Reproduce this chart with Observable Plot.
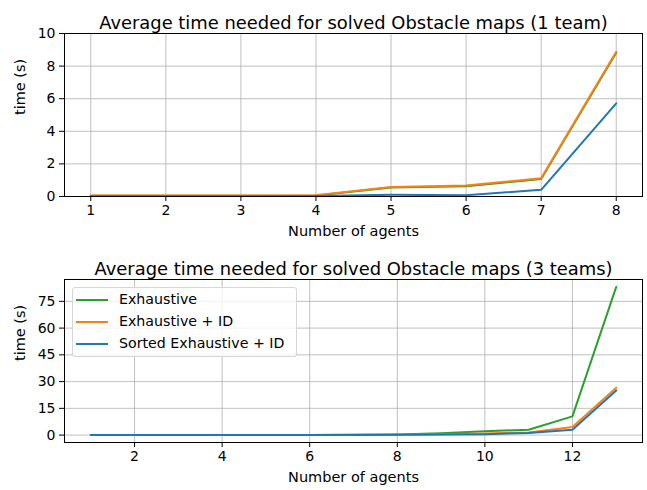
<!DOCTYPE html>
<html>
<head>
<meta charset="utf-8">
<script src="https://cdn.jsdelivr.net/npm/d3@7"></script>
<script src="https://cdn.jsdelivr.net/npm/@observablehq/plot@0.6"></script>
<style>
  html, body { margin: 0; padding: 0; background: #fff; }
  #wrap { position: relative; width: 647px; height: 490px; font-family: "DejaVu Sans", sans-serif; }
  #wrap svg { display: block; }
  .legend { position: absolute; left: 72px; top: 287px; width: 225px; height: 70px;
    border: 1px solid #d6d6d6; border-radius: 3px; background: rgba(255,255,255,0.8);
    box-sizing: border-box; font-size: 14.2px; color: #000; }
  .legend .row { position: absolute; left: 0; height: 20px; }
  .legend .sw { position: absolute; left: 3px; width: 32px; height: 2px; }
  .legend .lab { position: absolute; left: 46px; white-space: nowrap; line-height: 20px; top: -10px; }
</style>
</head>
<body>
<div id="wrap"></div>
<script>
// ---- Data ----
const agents1 = [1, 2, 3, 4, 5, 6, 7, 8];
const exhaustive1 = [0.05, 0.05, 0.05, 0.06, 0.55, 0.63, 1.07, 8.82];
const exhaustiveId1 = [0.06, 0.06, 0.06, 0.08, 0.58, 0.67, 1.12, 8.88];
const sortedId1 = [0.02, 0.02, 0.02, 0.03, 0.1, 0.08, 0.41, 5.71];

const agents3 = [1, 2, 3, 4, 5, 6, 7, 8, 9, 10, 11, 12, 13];
const exhaustive3 = [0.01, 0.01, 0.02, 0.03, 0.05, 0.1, 0.2, 0.4, 1.1, 2.2, 3.0, 10.5, 83.1];
const exhaustiveId3 = [0.01, 0.01, 0.02, 0.02, 0.04, 0.08, 0.15, 0.25, 0.5, 0.9, 1.5, 4.5, 26.6];
const sortedId3 = [0.01, 0.01, 0.01, 0.02, 0.03, 0.06, 0.1, 0.2, 0.35, 0.5, 1.2, 3.0, 25.0];

const xTicks1 = [1, 2, 3, 4, 5, 6, 7, 8];
const yTicks1 = [0, 2, 4, 6, 8, 10];
const xTicks3 = [2, 4, 6, 8, 10, 12];
const yTicks3 = [0, 15, 30, 45, 60, 75];

const seriesNames = ["Exhaustive", "Exhaustive + ID", "Sorted Exhaustive + ID"];
const seriesColors = ["#2ca02c", "#ff7f0e", "#1f77b4"];

const title1 = "Average time needed for solved Obstacle maps (1 team)";
const title3 = "Average time needed for solved Obstacle maps (3 teams)";
const xLabel = "Number of agents";
const yLabel = "time (s)";

function rows(xs, ys) { return xs.map((x, i) => ({x, y: ys[i]})); }

function chart({xs, series, xDomain, yDomain, xTicks, yTicks, title, marginTop, marginBottom}) {
  const grid = {stroke: "#b0b0b0", strokeOpacity: 1, strokeWidth: 0.8};
  return Plot.plot({
    width: 647,
    height: 245,
    marginLeft: 64,
    marginRight: 5,
    marginTop,
    marginBottom,
    style: {fontFamily: "DejaVu Sans, sans-serif", color: "#000", background: "#fff"},
    x: {domain: xDomain},
    y: {domain: yDomain},
    marks: [
      Plot.gridX(xTicks, grid),
      Plot.gridY(yTicks, grid),
      ...series.map((ys, i) => Plot.line(rows(xs, ys), {x: "x", y: "y", stroke: seriesColors[i], strokeWidth: 2, clip: true})),
      Plot.frame({stroke: "#000", strokeWidth: 1}),
      Plot.axisX({ticks: xTicks, tickSize: 5, tickPadding: 4, fontSize: 14, label: null}),
      Plot.axisY({ticks: yTicks, tickSize: 5, tickPadding: 4, fontSize: 14, label: null}),
      Plot.text([xLabel], {frameAnchor: "bottom", dy: 39, fontSize: 14.5, fill: "#000"}),
      Plot.text([yLabel], {frameAnchor: "left", dx: -44, rotate: -90, fontSize: 14.5, fill: "#000"}),
      Plot.text([title], {frameAnchor: "top", dy: -17, fontSize: 17.9, fill: "#000"})
    ]
  });
}

const wrap = document.getElementById("wrap");
wrap.appendChild(chart({
  xs: agents1,
  series: [exhaustive1, exhaustiveId1, sortedId1],
  xDomain: [0.65, 8.35],
  yDomain: [0, 10],
  xTicks: xTicks1, yTicks: yTicks1,
  title: title1, marginTop: 33, marginBottom: 49
}));
const M = d3.max(exhaustive3);
wrap.appendChild(chart({
  xs: agents3,
  series: [exhaustive3, exhaustiveId3, sortedId3],
  xDomain: [0.4, 13.6],
  yDomain: [-0.05 * M, 1.05 * M],
  xTicks: xTicks3, yTicks: yTicks3,
  title: title3, marginTop: 34, marginBottom: 48
}));

// Legend
const lg = document.createElement("div");
lg.className = "legend";
seriesNames.forEach((name, i) => {
  const r = document.createElement("div");
  r.className = "row";
  r.style.top = (11 + i * 22) + "px";
  const sw = document.createElement("div");
  sw.className = "sw";
  sw.style.background = seriesColors[i];
  const lab = document.createElement("div");
  lab.className = "lab";
  lab.textContent = name;
  r.appendChild(sw); r.appendChild(lab);
  lg.appendChild(r);
});
wrap.appendChild(lg);
</script>
</body>
</html>
